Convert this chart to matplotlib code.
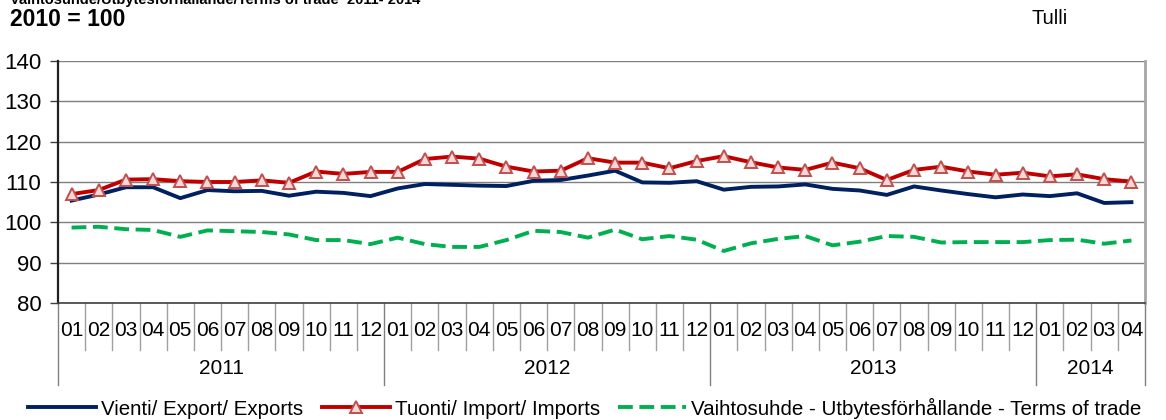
import matplotlib
matplotlib.use("Agg")
import matplotlib.pyplot as plt
import matplotlib.transforms as mtransforms

plt.rcParams['font.family'] = ['Liberation Sans', 'DejaVu Sans']

months = ["01", "02", "03", "04", "05", "06", "07", "08", "09", "10", "11", "12"] * 3 + ["01", "02", "03", "04"]
years = ["2011", "2012", "2013", "2014"]
year_counts = [12, 12, 12, 4]

exports = [105.4, 106.9, 108.7, 108.7, 106.0, 108.0, 107.7, 107.8, 106.6, 107.6, 107.3, 106.5,
           108.4, 109.5, 109.3, 109.1, 109.0, 110.3, 110.5, 111.6, 112.8, 109.9, 109.8, 110.2,
           108.1, 108.8, 108.9, 109.4, 108.3, 107.9, 106.8, 108.9, 107.9, 107.0, 106.2, 106.9,
           106.5, 107.2, 104.8, 105.0]
imports = [107.0, 108.0, 110.6, 110.7, 110.2, 110.0, 110.0, 110.4, 109.8, 112.6, 112.0, 112.5,
           112.5, 115.7, 116.3, 115.8, 113.8, 112.6, 112.8, 115.9, 114.8, 114.8, 113.4, 115.2,
           116.4, 114.9, 113.6, 113.0, 114.8, 113.4, 110.5, 113.0, 113.8, 112.6, 111.8, 112.3,
           111.4, 111.9, 110.7, 110.1]
terms = [98.7, 98.9, 98.3, 98.1, 96.4, 98.0, 97.8, 97.6, 97.0, 95.6, 95.6, 94.6,
         96.2, 94.6, 93.9, 93.9, 95.6, 97.9, 97.6, 96.2, 98.2, 95.8, 96.6, 95.7,
         92.9, 94.8, 95.9, 96.6, 94.3, 95.2, 96.6, 96.4, 95.0, 95.1, 95.1, 95.1,
         95.6, 95.7, 94.7, 95.5]

labels = ["Vienti/ Export/ Exports", "Tuonti/ Import/ Imports",
          "Vaihtosuhde - Utbytesförhållande - Terms of trade"]

W, H = 1166, 420
fig = plt.figure(figsize=(W / 100, H / 100), dpi=100)
ax = fig.add_axes([58 / W, 1 - 303 / H, (1145 - 58) / W, (303 - 61) / H])

x = list(range(len(months)))
ax.plot(x, exports, color='#002060', lw=2.8, label=labels[0], zorder=3)
ax.plot(x, imports, color='#C00000', lw=2.8, marker='^', ms=9, mfc='#F6D8D8',
        mec='#C0504D', mew=1.4, label=labels[1], zorder=4)
ax.plot(x, terms, color='#00B050', lw=2.8, ls=(0, (3.8, 1.7)), label=labels[2], zorder=3)

ax.set_xlim(-0.5, len(months) - 0.5)
ax.set_ylim(80, 140)
ax.set_yticks(range(80, 141, 10))
ax.yaxis.grid(True, color='#7F7F7F', lw=1.0)
ax.set_axisbelow(True)
ax.tick_params(axis='y', labelsize=16, length=6, width=1, color='#404040', pad=6)
ax.set_xticks([])
ax.spines['top'].set_visible(False)
ax.spines['right'].set_color('#A6A6A6')
ax.spines['right'].set_linewidth(2)
ax.spines['left'].set_color('#202020')
ax.spines['left'].set_linewidth(1.6)
ax.spines['bottom'].set_color('#404040')
ax.spines['bottom'].set_linewidth(1.2)

trans = mtransforms.blended_transform_factory(ax.transData, ax.transAxes)
ah = 303 - 61
for i, m in enumerate(months):
    ax.text(i, -28 / ah, m, transform=trans, ha='center', va='center', fontsize=15, clip_on=False)

bounds = [0]
for c in year_counts:
    bounds.append(bounds[-1] + c)
for i in range(len(months) + 1):
    if i in bounds:
        ax.plot([i - 0.5, i - 0.5], [0, -82 / ah], transform=trans, color='#808080', lw=1.0, clip_on=False)
    else:
        ax.plot([i - 0.5, i - 0.5], [0, -47 / ah], transform=trans, color='#A0A0A0', lw=1.0, clip_on=False)
for k, yname in enumerate(years):
    cx = (bounds[k] + bounds[k + 1] - 1) / 2
    ax.text(cx, -66 / ah, yname, transform=trans, ha='center', va='center', fontsize=15, clip_on=False)

fig.text(10 / W, 1 - 4 / H, "Vaihtosuhde/Utbytesförhållande/Terms of trade  2011- 2014",
         fontsize=10.5, fontweight='bold', ha='left', va='baseline')
fig.text(10 / W, 1 - 20 / H, "2010 = 100", fontsize=16.5, fontweight='bold', ha='left', va='center')
fig.text(1031 / W, 1 - 18 / H, "Tulli", fontsize=14.5, ha='left', va='center')

fig.legend(loc='center', bbox_to_anchor=(585 / W, 1 - 408 / H), ncol=3, frameon=False,
           fontsize=14.8, handlelength=3.3, handletextpad=0.25, columnspacing=0.9,
           borderaxespad=0, borderpad=0)

fig.savefig("out.png", dpi=100)
